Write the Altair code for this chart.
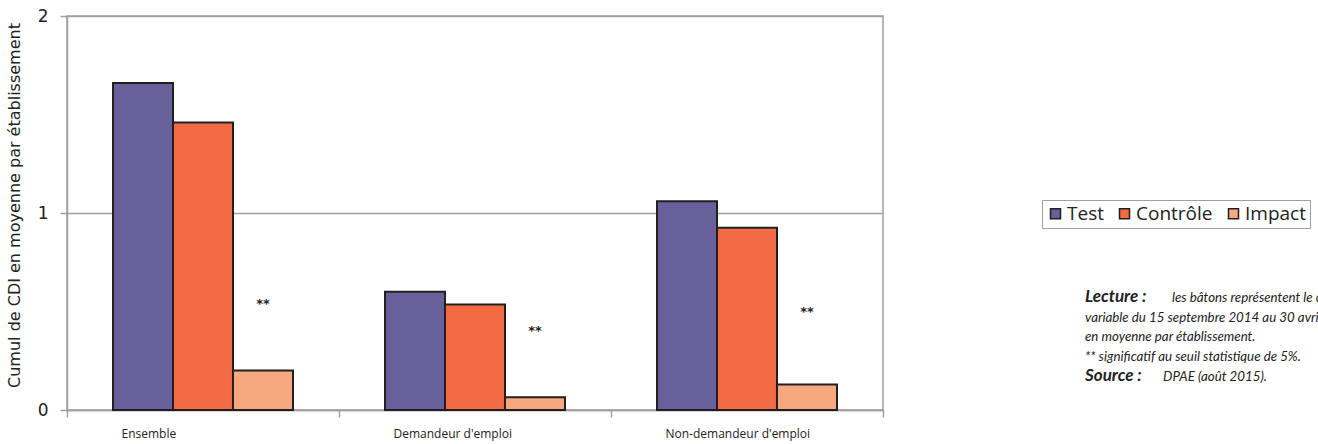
import altair as alt
import pandas as pd

# Catégories, séries et valeurs (cumul de CDI en moyenne par établissement)
categories = ["Ensemble", "Demandeur d'emploi", "Non-demandeur d'emploi"]
series = ["Test", "Contrôle", "Impact"]
test_vals = [1.66, 0.60, 1.06]
controle_vals = [1.46, 0.535, 0.925]
impact_vals = [0.20, 0.065, 0.13]
colors = ["#67609A", "#F26B43", "#F6A97F"]

# Position verticale des mentions de significativité (**)
star_pos = [0.54, 0.40, 0.50]

lecture_lines = [
    ("Lecture :", "les bâtons représentent le cumul des CDI signés sur la période"),
    ("", "variable du 15 septembre 2014 au 30 avril 2015,"),
    ("", "en moyenne par établissement."),
    ("", "** significatif au seuil statistique de 5%."),
    ("Source :", "DPAE (août 2015)."),
]

rows = []
for serie, vals in zip(series, [test_vals, controle_vals, impact_vals]):
    for cat, v in zip(categories, vals):
        rows.append({"categorie": cat, "serie": serie, "valeur": v})
df = pd.DataFrame(rows)
df_stars = pd.DataFrame({"categorie": categories, "serie": ["Impact"] * 3, "valeur": star_pos})

W, H = 816, 394
LEFT, TOP = 67, 16
GRAY = "#A0A0A0"
FONT = "DejaVu Sans"

x_enc = alt.X(
    "categorie:N",
    sort=categories,
    title=None,
    scale=alt.Scale(paddingInner=0, paddingOuter=0),
    axis=alt.Axis(
        labelAngle=0,
        labelFont="Open Sans",
        labelFontSize=12,
        labelColor="#222",
        labelPadding=11,
        labelAlign="left",
        labelOffset=-82,
        tickBand="extent",
        tickSize=7,
        tickColor=GRAY,
        tickWidth=1.5,
        domainColor=GRAY,
        domainWidth=1.5,
        grid=False,
    ),
)
xoff_enc = alt.XOffset(
    "serie:N",
    sort=series,
    scale=alt.Scale(domain=series, paddingInner=0, paddingOuter=0.767),
)
y_enc = alt.Y(
    "valeur:Q",
    scale=alt.Scale(domain=[0, 2], nice=False),
    axis=alt.Axis(
        tickCount=2,
        format="d",
        title="Cumul de CDI en moyenne par établissement",
        titleFont=FONT,
        titleFontSize=16,
        titleFontWeight="normal",
        titleColor="#222",
        titleAngle=-90,
        titleX=-53,
        titleY=H / 2 - 8,
        titleAlign="center",
        titleBaseline="middle",
        labelFont=FONT,
        labelFontSize=17,
        labelColor="#222",
        labelPadding=12,
        tickSize=7,
        tickColor=GRAY,
        tickWidth=1.5,
        domainColor=GRAY,
        domainWidth=1.5,
        grid=True,
        gridColor=GRAY,
        gridWidth=1.5,
    ),
)

bars = alt.Chart(df).mark_bar(stroke="#231F20", strokeWidth=2).encode(
    x=x_enc,
    xOffset=xoff_enc,
    y=y_enc,
    color=alt.Color(
        "serie:N",
        sort=series,
        scale=alt.Scale(domain=series, range=colors),
        legend=alt.Legend(
            title=None,
            orient="none",
            direction="horizontal",
            legendX=1042 - LEFT,
            legendY=200 - TOP,
            padding=4,
            strokeColor=GRAY,
            fillColor="white",
            symbolType="square",
            symbolSize=100,
            symbolStrokeColor="#231F20",
            symbolStrokeWidth=1.5,
            symbolOpacity=1,
            labelFont="Open Sans",
            labelFontSize=19,
            labelColor="#222",
            labelOffset=2,
            columnPadding=11,
        ),
    ),
)

stars = alt.Chart(df_stars).mark_text(
    text="**", fontWeight="bold", fontSize=13, font=FONT, color="#222", baseline="middle"
).encode(
    x=x_enc,
    xOffset=xoff_enc,
    y=y_enc,
)

# Bloc de lecture à droite du graphique
layers = [bars, stars]
line_y0, line_step = 302, 19.7
for i, (bold, rest) in enumerate(lecture_lines):
    y = line_y0 + i * line_step - TOP
    x_rest = 1085 - LEFT
    if bold:
        layers.append(
            alt.Chart(pd.DataFrame({"t": [bold]})).mark_text(
                font="Lato", fontSize=17, fontStyle="italic", fontWeight="bold",
                align="left", baseline="alphabetic", color="#222",
            ).encode(text="t:N", x=alt.value(x_rest), y=alt.value(y))
        )
        x_rest = (1172 if bold.startswith("Lecture") else 1163) - LEFT
    layers.append(
        alt.Chart(pd.DataFrame({"t": [rest]})).mark_text(
            font="Lato", fontSize=13.3, fontStyle="italic",
            align="left", baseline="alphabetic", color="#222",
        ).encode(text="t:N", x=alt.value(x_rest), y=alt.value(y))
    )

chart = (
    alt.layer(*layers)
    .properties(
        width=W,
        height=H,
        background="white",
        autosize=alt.AutoSizeParams(type="none"),
        padding={"left": LEFT, "top": TOP, "right": 1318 - LEFT - W, "bottom": 444 - TOP - H},
    )
    .configure_view(stroke=GRAY, strokeWidth=1.5)
)

chart.save("out.html", embed_options={"renderer": "svg", "actions": False})
